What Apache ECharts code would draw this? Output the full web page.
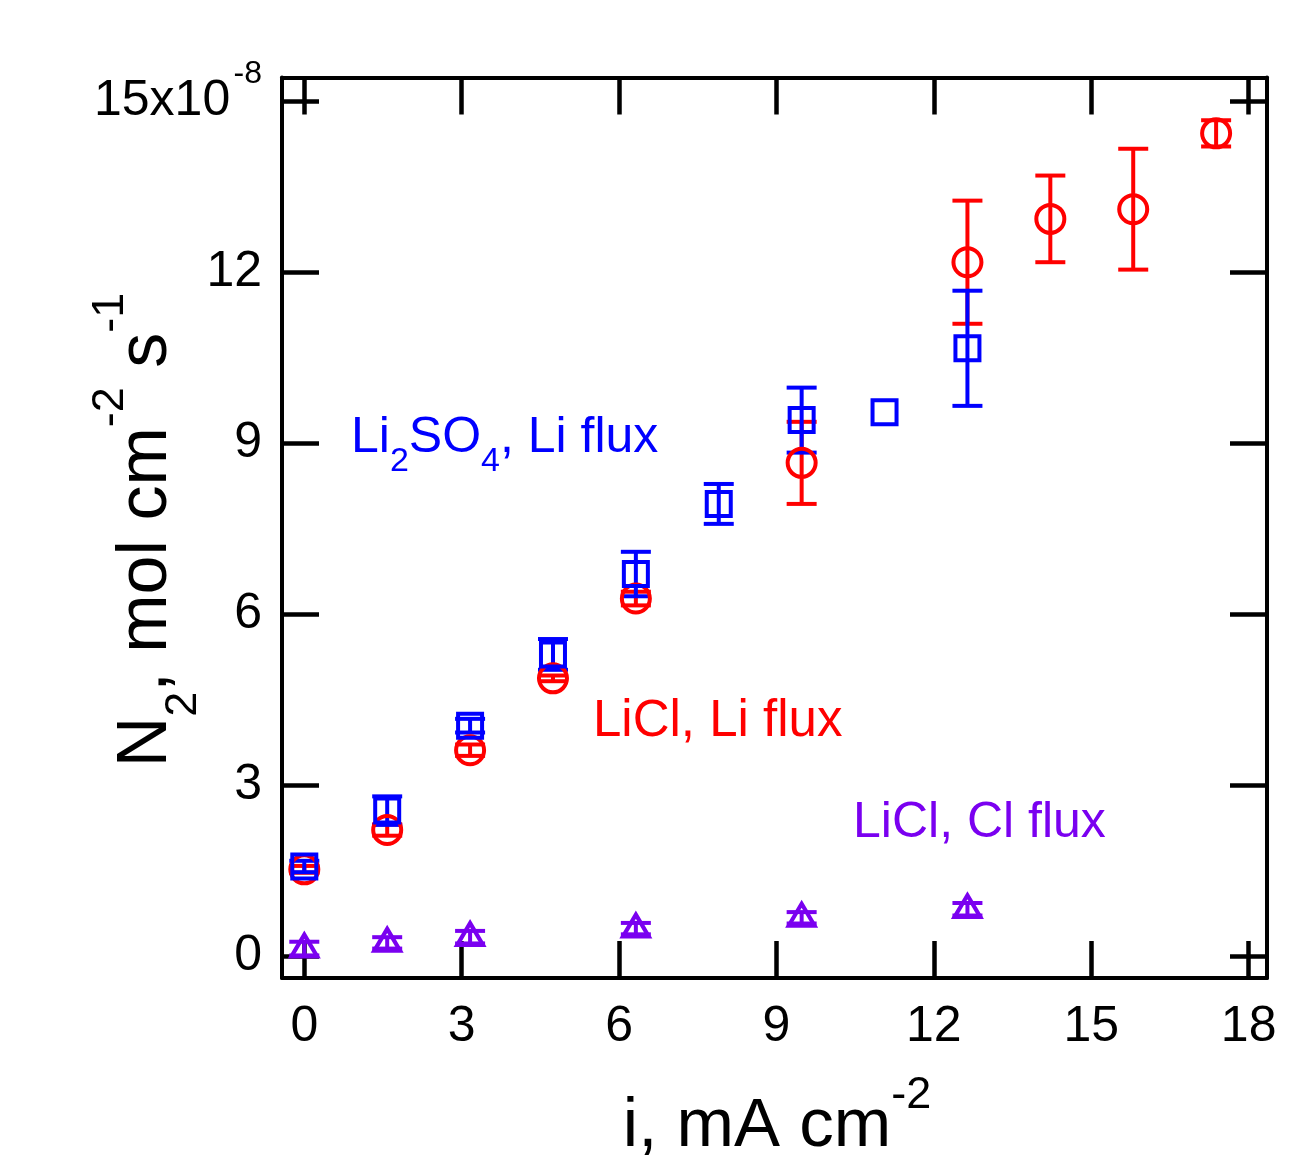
<!DOCTYPE html>
<html>
<head>
<meta charset="utf-8">
<script src="https://cdn.jsdelivr.net/npm/echarts@6/dist/echarts.min.js"></script>
<style>
html,body{margin:0;padding:0;background:#fff;}
#chart{width:1290px;height:1176px;}
</style>
</head>
<body>
<div id="chart"></div>
<script>
// ---- data (y in units of 1e-8 mol cm^-2 s^-1, x in mA cm^-2) ----
const liclLiX   = [0, 1.58, 3.16, 4.74, 6.32, 9.48, 12.64, 14.22, 15.8, 17.38];
const liclLiY   = [1.52, 2.21, 3.61, 4.87, 6.27, 8.65, 12.17, 12.93, 13.10, 14.43];
const liclLiErr = [0.06, 0.10, 0.10, 0.05, 0.12, 0.72, 1.08, 0.76, 1.06, 0.23];

const li2so4X   = [0, 1.58, 3.16, 4.74, 6.32, 7.9, 9.48, 11.06, 12.64];
const li2so4Y   = [1.57, 2.55, 4.04, 5.29, 6.70, 7.93, 9.40, 9.54, 10.66];
const li2so4Err = [0.10, 0.25, 0.12, 0.27, 0.39, 0.35, 0.57, 0, 1.01];

const liclClX   = [0, 1.58, 3.16, 6.32, 9.48, 12.64];
const liclClY   = [0.13, 0.23, 0.33, 0.48, 0.67, 0.82];
const liclClErr = [0.12, 0.10, 0.11, 0.10, 0.10, 0.11];

const xTicks = [0, 3, 6, 9, 12, 15, 18];
const yTicks = [0, 3, 6, 9, 12, 15];

const RED = '#ff0000', BLUE = '#0000ff', PURPLE = '#7a00f0';
const FONT = "'Liberation Sans', Arial, Helvetica, sans-serif";

function zip(xs, ys, es) { return xs.map((x, i) => es ? [x, ys[i], es[i]] : [x, ys[i]]); }

function errSeries(xs, ys, es, color) {
  return {
    type: 'custom',
    data: zip(xs, ys, es),
    encode: {x: 0, y: 1},
    z: 3,
    renderItem: function (params, api) {
      const x = api.value(0), y = api.value(1), e = api.value(2);
      if (!(e > 0)) return null;
      const t = api.coord([x, y + e]);
      const b = api.coord([x, y - e]);
      const hw = 15;
      const st = {stroke: color, lineWidth: 4};
      return {type: 'group', children: [
        {type: 'line', shape: {x1: t[0], y1: t[1], x2: b[0], y2: b[1]}, style: st},
        {type: 'line', shape: {x1: t[0] - hw, y1: t[1], x2: t[0] + hw, y2: t[1]}, style: st},
        {type: 'line', shape: {x1: b[0] - hw, y1: b[1], x2: b[0] + hw, y2: b[1]}, style: st}
      ]};
    }
  };
}

function markerSeries(xs, ys, symbol, size, color, offset) {
  return {
    type: 'scatter',
    data: zip(xs, ys),
    symbol: symbol,
    symbolSize: size,
    symbolOffset: offset || [0, 0],
    z: 4,
    itemStyle: {color: 'rgba(0,0,0,0)', borderColor: color, borderWidth: 4, opacity: 1}
  };
}

const axisLineStyle = {color: '#000', width: 4};
const tickCommon = {inside: true, length: 37, lineStyle: {color: '#000', width: 4.5}};

const chart = echarts.init(document.getElementById('chart'), null, {renderer: 'canvas'});
chart.setOption({
  animation: false,
  backgroundColor: '#fff',
  grid: {left: 282, top: 77.5, right: 23, bottom: 198, containLabel: false},
  xAxis: [
    {type: 'value', min: -0.425, max: 18.35, position: 'bottom',
     axisLine: {show: true, onZero: false, lineStyle: axisLineStyle},
     axisTick: Object.assign({customValues: xTicks}, tickCommon),
     axisLabel: {customValues: xTicks, fontSize: 50, color: '#000', fontFamily: FONT, margin: 24},
     splitLine: {show: false}},
    {type: 'value', min: -0.425, max: 18.35, position: 'top',
     axisLine: {show: true, onZero: false, lineStyle: axisLineStyle},
     axisTick: Object.assign({customValues: xTicks}, tickCommon),
     axisLabel: {show: false}, splitLine: {show: false}}
  ],
  yAxis: [
    {type: 'value', min: -0.386, max: 15.41, position: 'left',
     axisLine: {show: true, onZero: false, lineStyle: axisLineStyle},
     axisTick: Object.assign({customValues: yTicks}, tickCommon),
     axisLabel: {customValues: yTicks, color: '#000', fontFamily: FONT, margin: 20,
       formatter: function (v) { return v === 15 ? '{m|15x10}{g| }{s|-8}' : '{n|' + v + '}'; },
       rich: {
         n: {fontSize: 50, fontFamily: FONT, color: '#000'},
         m: {fontSize: 50, fontFamily: FONT, color: '#000', lineHeight: 86, verticalAlign: 'middle'},
         g: {fontSize: 12, fontFamily: FONT, color: '#000', lineHeight: 12, verticalAlign: 'middle'},
         s: {fontSize: 32, fontFamily: FONT, color: '#000', lineHeight: 32, verticalAlign: 'top'}
       }},
     splitLine: {show: false}},
    {type: 'value', min: -0.386, max: 15.41, position: 'right',
     axisLine: {show: true, onZero: false, lineStyle: axisLineStyle},
     axisTick: Object.assign({customValues: yTicks}, tickCommon),
     axisLabel: {show: false}, splitLine: {show: false}}
  ],
  series: [
    errSeries(liclLiX, liclLiY, liclLiErr, RED),
    markerSeries(liclLiX, liclLiY, 'circle', 28, RED),
    errSeries(li2so4X, li2so4Y, li2so4Err, BLUE),
    markerSeries(li2so4X, li2so4Y, 'rect', 24, BLUE),
    errSeries(liclClX, liclClY, liclClErr, PURPLE),
    markerSeries(liclClX, liclClY, 'triangle', [26, 22], PURPLE, [0, -3])
  ],
  graphic: [
    {type: 'text', x: 147, y: 530, rotation: Math.PI / 2,
     style: {text: '{m|N}{b|2}{m|, mol cm}{p|-2}{m| s}{p|-1}', align: 'center', verticalAlign: 'middle',
       rich: {
         m: {fontSize: 70, fontFamily: FONT, fill: '#000', lineHeight: 118, verticalAlign: 'middle'},
         p: {fontSize: 45, fontFamily: FONT, fill: '#000', lineHeight: 45, verticalAlign: 'top'},
         b: {fontSize: 45, fontFamily: FONT, fill: '#000', lineHeight: 45, verticalAlign: 'bottom'}
       }}},
    {type: 'text', x: 777, y: 1127,
     style: {text: '{m|i, mA cm}{p|-2}', align: 'center', verticalAlign: 'middle',
       rich: {
         m: {fontSize: 69, fontFamily: FONT, fill: '#000', lineHeight: 108, verticalAlign: 'middle'},
         p: {fontSize: 45, fontFamily: FONT, fill: '#000', lineHeight: 45, verticalAlign: 'top'}
       }}},
    {type: 'text', x: 351, y: 438,
     style: {text: '{m|Li}{b|2}{m|SO}{b|4}{m|, Li flux}', align: 'left', verticalAlign: 'middle',
       rich: {
         m: {fontSize: 50, fontFamily: FONT, fill: BLUE, lineHeight: 82, verticalAlign: 'middle'},
         b: {fontSize: 34, fontFamily: FONT, fill: BLUE, lineHeight: 34, verticalAlign: 'bottom'}
       }}},
    {type: 'text', x: 593, y: 722,
     style: {text: 'LiCl, Li flux', align: 'left', verticalAlign: 'middle', fontSize: 51, fontFamily: FONT, fill: RED}},
    {type: 'text', x: 853, y: 823,
     style: {text: 'LiCl, Cl flux', align: 'left', verticalAlign: 'middle', fontSize: 50, fontFamily: FONT, fill: PURPLE}}
  ]
});
</script>
</body>
</html>
